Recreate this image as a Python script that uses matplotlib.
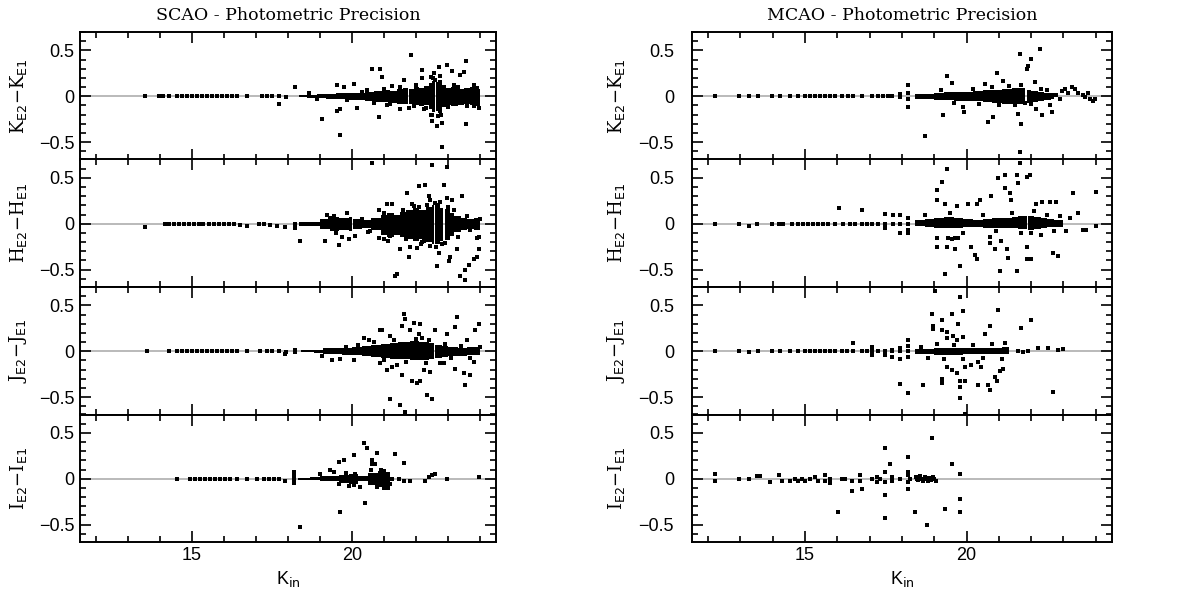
import matplotlib.pyplot as plt
import numpy as np
from matplotlib.ticker import MultipleLocator

# ---- SCAO: individual points (K_in, delta) ----
scao_k_pts = np.array([
    [13.54, 0], [13.96, 0], [14.11, 0], [14.27, 0], [14.53, 0], [14.69, 0], [14.84, 0], [15.0, 0],
    [15.16, 0], [15.31, 0], [15.47, 0], [15.63, 0], [15.78, 0], [15.94, 0], [16.09, 0], [16.25, 0],
    [16.41, 0], [16.72, 0], [17.19, 0], [17.34, 0], [17.5, 0], [17.71, 0], [17.71, -0.08], [17.95, -0.01],
    [18.23, 0.10], [18.65, 0.035], [18.9, -0.035], [19.06, -0.25], [19.53, 0.125], [19.53, -0.16],
    [19.64, -0.42], [19.64, -0.14], [19.74, 0.10], [19.84, -0.04], [20.05, 0.135], [20.16, -0.125],
    [20.47, 0.07], [20.63, 0.30], [20.83, -0.23], [20.89, 0.30], [20.94, 0.21], [21.09, -0.10],
    [21.25, 0.11], [21.3, -0.05], [21.51, -0.14], [21.61, 0.18], [21.77, -0.13], [21.84, 0.45],
    [21.93, -0.11], [22.08, -0.04], [22.19, 0.29], [22.19, 0.20], [22.24, -0.14], [22.34, 0.07],
    [22.5, -0.27], [22.5, -0.2], [22.55, 0.25], [22.6, 0.18], [22.66, -0.32], [22.71, 0.32],
    [22.81, -0.29], [22.81, -0.55], [22.97, 0.34], [23.13, 0.27], [23.18, 0.12], [23.39, 0.23],
    [23.49, 0.26], [23.55, 0.38], [23.55, -0.30], [23.7, 0.07], [23.8, -0.11], [23.8, 0.12], [23.96, -0.13],
    [20.3, 0.05], [20.7, -0.07], [21.0, 0.08], [21.2, -0.09], [21.5, 0.1], [22.0, 0.12], [22.3, -0.13],
    [23.0, -0.12], [23.3, 0.1], [23.6, -0.11], [23.9, 0.09], [22.48, 0.21], [22.52, 0.2], [22.68, -0.22],
    [22.74, 0.22], [22.78, -0.21], [22.46, -0.2],
])
scao_k_core_x = [18.35, 18.6, 18.9, 19.2, 19.5, 19.8, 20.1, 20.4, 20.7, 21.0, 21.2, 21.4, 21.6, 21.74, 21.78,
                 21.95, 22.1, 22.25, 22.4, 22.5, 22.58, 22.62, 22.7, 22.8, 22.95, 23.1, 23.3, 23.5, 23.7, 23.85, 24.0]
scao_k_core_hi = [0.012, 0.015, 0.02, 0.025, 0.03, 0.04, 0.035, 0.05, 0.06, 0.07, 0.06, 0.08, 0.09, 0.0, 0.08,
                  0.1, 0.09, 0.11, 0.14, 0.17, 0.0, 0.15, 0.18, 0.12, 0.09, 0.1, 0.08, 0.09, 0.1, 0.08, 0.08]
scao_k_core_lo = [-0.012, -0.015, -0.02, -0.03, -0.035, -0.04, -0.04, -0.05, -0.06, -0.06, -0.07, -0.08, -0.08, 0.0, -0.09,
                  -0.1, -0.11, -0.1, -0.14, -0.17, 0.0, -0.16, -0.18, -0.12, -0.1, -0.11, -0.1, -0.09, -0.1, -0.11, -0.11]

scao_h_pts = np.array([
    [13.54, -0.04], [14.17, 0], [14.27, 0], [14.43, 0], [14.58, 0], [14.74, 0], [14.9, 0], [15.05, 0],
    [15.21, 0], [15.36, 0], [15.52, 0], [15.68, 0], [15.83, 0], [15.99, 0], [16.15, 0], [16.3, 0],
    [16.51, -0.01], [16.72, -0.03], [17.08, 0], [17.24, 0], [17.45, -0.01], [17.66, -0.03], [17.92, -0.04],
    [18.23, -0.05], [18.23, 0.0],
    [18.39, -0.19], [19.17, -0.19], [19.58, -0.23], [19.9, -0.17], [19.69, -0.14], [19.22, 0.10],
    [19.43, 0.08], [19.84, 0.12], [20.1, -0.13], [20.57, -0.08], [20.83, 0.15], [21.09, 0.22],
    [21.25, 0.21], [21.41, -0.06], [20.83, -0.16], [20.99, -0.17], [21.14, -0.19], [21.41, -0.55],
    [21.35, -0.57], [21.51, -0.28], [21.72, 0.33], [21.88, 0.22], [22.08, 0.41], [22.29, 0.42],
    [22.4, 0.30], [21.82, -0.25], [21.77, -0.36], [22.03, -0.26], [22.24, -0.19], [22.45, 0.26],
    [22.76, 0.24], [22.86, 0.42], [22.97, 0.28], [23.13, 0.26], [22.66, -0.46], [22.71, -0.32],
    [23.02, -0.41], [23.07, -0.36], [23.28, -0.28], [23.39, -0.57], [23.54, -0.5], [23.54, -0.61],
    [23.65, -0.45], [23.8, -0.39], [23.91, -0.36], [23.96, -0.28], [23.91, -0.16], [23.7, -0.07],
    [23.96, -0.14], [20.63, 0.66], [22.5, 0.64], [22.97, 0.62], [23.44, 0.30],
    [19.3, 0.06], [19.5, -0.1], [20.3, 0.05], [20.5, -0.09], [21.0, 0.12], [21.2, -0.13], [21.6, 0.15],
    [21.7, -0.17], [22.1, 0.18], [22.2, -0.2], [22.35, 0.2], [22.7, 0.2], [22.8, -0.22], [23.2, 0.15],
    [23.3, -0.15], [23.6, 0.08], [24.0, 0.05], [21.95, 0.19], [22.15, -0.22], [22.45, -0.24],
    [22.6, 0.23], [22.62, -0.25], [22.9, -0.21], [23.0, 0.18],
])
scao_h_core_x = [18.35, 18.7, 19.0, 19.3, 19.6, 19.9, 20.0, 20.04, 20.3, 20.6, 20.9, 21.1, 21.3, 21.5, 21.7,
                 21.9, 22.1, 22.3, 22.5, 22.56, 22.6, 22.75, 22.85, 22.9, 23.05, 23.2, 23.4, 23.6, 23.8, 24.0]
scao_h_core_hi = [0.015, 0.02, 0.05, 0.07, 0.06, 0.07, 0.0, 0.05, 0.04, 0.06, 0.1, 0.12, 0.1, 0.13, 0.15,
                  0.17, 0.15, 0.18, 0.2, 0.0, 0.2, 0.17, 0.0, 0.16, 0.12, 0.08, 0.06, 0.05, 0.06, 0.06]
scao_h_core_lo = [-0.02, -0.03, -0.06, -0.08, -0.07, -0.08, 0.0, -0.06, -0.05, -0.07, -0.12, -0.14, -0.12, -0.15, -0.17,
                  -0.19, -0.17, -0.2, -0.22, 0.0, -0.22, -0.19, 0.0, -0.18, -0.13, -0.09, -0.07, -0.06, -0.07, -0.07]

scao_j_pts = np.array([
    [13.59, 0], [14.27, 0], [14.53, 0], [14.69, 0], [14.84, 0], [15.0, 0], [15.16, 0], [15.31, 0],
    [15.47, 0], [15.63, 0], [15.78, 0], [15.94, 0], [16.09, 0], [16.25, 0], [16.41, 0], [16.72, 0],
    [17.14, 0], [17.34, 0], [17.5, 0], [17.71, 0], [17.92, -0.03], [17.95, -0.01], [18.23, 0.01], [18.23, -0.01],
    [19.06, -0.05], [20.36, 0.14], [20.52, 0.12], [20.89, 0.23], [20.94, 0.23], [21.2, 0.17],
    [21.51, 0.08], [21.61, 0.41], [21.67, 0.35], [21.56, 0.27], [21.82, 0.23], [21.93, 0.31],
    [22.08, 0.19], [22.14, 0.30], [22.19, 0.14], [22.6, 0.23], [22.97, 0.19], [23.28, 0.37],
    [23.23, 0.26], [23.59, 0.12], [23.85, 0.23], [23.96, 0.30], [20.89, -0.13], [21.09, -0.21],
    [21.25, -0.17], [21.41, -0.15], [21.56, -0.26], [21.88, -0.32], [22.03, -0.35], [22.14, -0.33],
    [22.24, -0.21], [22.34, -0.48], [22.5, -0.52], [22.45, -0.23], [22.76, -0.13], [22.86, -0.13],
    [23.23, -0.19], [23.49, -0.24], [23.54, -0.37], [23.7, -0.26], [23.8, -0.12], [21.2, -0.52],
    [21.51, -0.59], [21.67, -0.66], [20.05, -0.1], [19.64, -0.08], [19.38, -0.1],
    [19.8, 0.05], [20.2, 0.07], [20.7, 0.1], [21.0, -0.1], [21.3, 0.12], [21.7, -0.12], [22.0, 0.13],
    [22.3, -0.13], [22.4, 0.12], [22.9, 0.08], [23.1, -0.07], [23.4, 0.06], [23.7, -0.07], [24.0, 0.05],
])
scao_j_core_x = [18.4, 18.8, 19.1, 19.4, 19.7, 20.0, 20.3, 20.6, 20.9, 21.2, 21.5, 21.8, 22.1, 22.4, 22.55,
                 22.59, 22.8, 23.0, 23.3, 23.6, 24.0]
scao_j_core_hi = [0.01, 0.015, 0.03, 0.035, 0.04, 0.05, 0.06, 0.07, 0.08, 0.09, 0.1, 0.11, 0.1, 0.09, 0.0,
                  0.07, 0.06, 0.05, 0.04, 0.05, 0.05]
scao_j_core_lo = [-0.01, -0.015, -0.025, -0.03, -0.04, -0.04, -0.05, -0.06, -0.07, -0.08, -0.09, -0.1, -0.1, -0.09, 0.0,
                  -0.07, -0.06, -0.05, -0.05, -0.04, -0.04]

scao_i_pts = np.array([
    [14.53, 0], [14.95, 0], [15.1, 0], [15.26, 0], [15.42, 0], [15.57, 0], [15.73, 0], [15.89, 0],
    [16.04, 0], [16.2, 0], [16.41, 0], [16.72, 0], [17.03, 0], [17.24, 0], [17.4, 0], [17.55, 0],
    [17.71, 0], [17.92, -0.02], [18.18, 0.07], [18.18, 0.04], [18.18, 0.01], [18.18, -0.02], [18.18, -0.05],
    [21.46, 0], [21.61, -0.02], [21.82, -0.02], [22.29, -0.02], [22.4, 0.02], [22.5, 0.04], [22.6, 0.05],
    [22.97, 0], [23.96, 0.02],
    [18.39, -0.53], [19.64, -0.36], [19.58, 0.18], [19.74, 0.2], [20.05, 0.26], [20.36, 0.39],
    [20.47, 0.33], [20.42, -0.27], [20.63, 0.2], [20.63, 0.16], [20.78, 0.28], [20.73, 0.16],
    [21.35, 0.27], [21.61, 0.17], [20.05, -0.07], [20.26, -0.09], [20.78, -0.09], [20.99, -0.1],
    [21.14, -0.1], [19.32, 0.09], [19.43, 0.07], [19.01, 0.05],
    [19.8, 0.06], [20.1, 0.05], [20.6, 0.09], [20.9, 0.1], [21.0, 0.08], [21.2, -0.06], [19.6, -0.06], [19.9, -0.08],
])
scao_i_core_x = [18.3, 18.7, 19.0, 19.3, 19.6, 19.9, 20.2, 20.5, 20.8, 21.0, 21.2, 21.32]
scao_i_core_hi = [0.01, 0.015, 0.025, 0.03, 0.045, 0.05, 0.03, 0.06, 0.08, 0.07, 0.02, 0.02]
scao_i_core_lo = [-0.01, -0.015, -0.02, -0.03, -0.05, -0.06, -0.03, -0.07, -0.09, -0.08, -0.02, -0.02]

# ---- MCAO ----
mcao_k_pts = np.array([
    [12.2, 0], [12.94, 0], [13.25, 0], [13.54, 0], [13.97, 0], [14.23, 0], [14.54, 0], [14.79, 0],
    [15.0, 0], [15.15, 0], [15.31, 0], [15.46, 0], [15.62, 0], [15.77, 0], [15.93, 0], [16.13, 0],
    [16.34, 0], [16.49, 0], [16.75, 0], [17.06, 0], [17.27, 0], [17.42, 0], [17.58, 0], [17.68, 0],
    [17.94, 0.02], [17.94, -0.01], [18.2, 0.12], [18.2, 0.03], [18.2, -0.03], [18.2, -0.12],
    [18.71, -0.43], [19.38, 0.22], [19.54, 0.14], [19.28, -0.2], [19.9, -0.12], [19.93, -0.17],
    [20.67, -0.28], [20.82, -0.23], [20.57, 0.13], [20.93, 0.25], [21.13, 0.17], [21.65, 0.46],
    [21.7, -0.3], [21.65, -0.61], [21.86, 0.30], [21.91, 0.33], [22.01, 0.41], [22.11, 0.15],
    [22.27, 0.51], [22.32, -0.21], [22.16, -0.14], [21.6, -0.19], [21.8, -0.07], [22.58, -0.1],
    [22.63, -0.17], [22.78, 0.01], [22.89, -0.03], [22.94, 0.06], [23.04, 0.08], [23.14, 0.04],
    [23.25, 0.1], [23.35, 0.08], [23.45, 0.04], [23.61, 0.01], [23.66, -0.01], [23.76, 0.03],
    [23.81, -0.03], [23.92, -0.05], [23.97, -0.03],
    [19.2, 0.07], [19.6, -0.07], [20.2, 0.08], [20.4, -0.08], [20.8, 0.1], [21.0, -0.1], [21.3, 0.11],
    [21.5, -0.1], [21.7, 0.12], [22.0, -0.09], [22.3, 0.08], [22.5, 0.07],
])
mcao_k_core_x = [18.4, 18.7, 19.0, 19.3, 19.6, 19.9, 20.2, 20.5, 20.8, 21.1, 21.4, 21.6, 21.82, 21.86,
                 22.0, 22.2, 22.4, 22.6, 22.7]
mcao_k_core_hi = [0.02, 0.025, 0.035, 0.045, 0.05, 0.045, 0.06, 0.065, 0.07, 0.08, 0.09, 0.09, 0.0, 0.07,
                  0.06, 0.05, 0.04, 0.03, 0.03]
mcao_k_core_lo = [-0.025, -0.03, -0.04, -0.045, -0.05, -0.05, -0.055, -0.06, -0.07, -0.08, -0.08, -0.09, 0.0, -0.07,
                  -0.06, -0.05, -0.04, -0.03, -0.03]

mcao_h_pts = np.array([
    [12.2, 0], [12.94, 0], [13.25, -0.02], [13.51, 0], [13.97, 0], [14.18, 0], [14.33, 0], [14.59, 0],
    [14.79, 0], [14.95, 0], [15.1, 0], [15.26, 0], [15.41, 0], [15.57, 0], [15.72, 0], [15.93, 0],
    [16.18, 0], [16.39, 0], [16.55, 0], [16.75, 0], [16.91, 0], [17.06, 0], [17.27, 0], [17.47, 0],
    [17.73, 0], [17.94, 0], [18.2, 0],
    [16.05, 0.17], [16.75, 0.15], [17.47, 0.11], [17.73, 0.09], [17.94, 0.1], [17.94, -0.1],
    [18.2, 0.06], [18.2, -0.07], [18.2, -0.1], [17.47, -0.05],
    [19.38, 0.6], [19.23, 0.46], [19.07, 0.37], [19.07, 0.26], [19.33, 0.21], [19.69, 0.19],
    [19.07, -0.16], [19.07, -0.25], [19.43, -0.16], [19.54, -0.17], [19.64, -0.16], [19.74, -0.16],
    [19.38, -0.25], [19.64, -0.28], [19.33, -0.55], [19.79, -0.46], [20.05, 0.22], [20.31, 0.21],
    [20.41, 0.26], [20.15, -0.25], [20.26, -0.34], [20.31, -0.39], [20.72, -0.14], [20.72, -0.21],
    [20.88, -0.28], [20.77, 0.30], [20.98, 0.50], [21.19, 0.39], [21.19, 0.53], [21.34, 0.33],
    [21.39, 0.26], [21.55, 0.53], [21.6, 0.44], [21.55, -0.52], [21.03, -0.52], [21.08, -0.19],
    [21.24, -0.28], [21.29, -0.37], [21.65, 0.66], [21.86, 0.51], [21.96, 0.53], [21.86, -0.39],
    [22.01, -0.39], [21.86, -0.25], [22.01, -0.1], [22.16, 0.22], [22.32, 0.24], [22.58, 0.24],
    [22.78, 0.24], [22.68, -0.32], [22.84, -0.35], [23.09, -0.08], [23.2, 0.06], [23.3, 0.33],
    [23.45, 0.12], [23.61, -0.07], [23.71, -0.07], [24.02, 0.35], [24.02, -0.03],
    [18.7, 0.1], [19.5, 0.12], [19.9, -0.1], [20.5, 0.09], [20.9, -0.08], [21.4, 0.12], [21.7, -0.1],
    [22.1, 0.14], [22.3, -0.12], [22.5, 0.1], [22.7, -0.08], [22.9, 0.08],
])
mcao_h_core_x = [18.4, 18.7, 19.0, 19.3, 19.6, 19.9, 20.2, 20.5, 20.8, 21.1, 21.4, 21.6, 21.86, 21.9,
                 22.1, 22.3, 22.5, 22.7, 23.0]
mcao_h_core_hi = [0.04, 0.05, 0.06, 0.07, 0.06, 0.05, 0.045, 0.05, 0.06, 0.06, 0.07, 0.08, 0.0, 0.08,
                  0.07, 0.06, 0.05, 0.04, 0.04]
mcao_h_core_lo = [-0.03, -0.04, -0.05, -0.05, -0.045, -0.04, -0.04, -0.045, -0.05, -0.05, -0.05, -0.06, 0.0, -0.07,
                  -0.06, -0.05, -0.04, -0.04, -0.04]

mcao_j_pts = np.array([
    [12.2, 0], [12.94, 0], [13.25, -0.01], [13.54, 0], [13.97, 0], [14.23, 0], [14.54, 0], [14.79, 0],
    [15.0, 0], [15.15, 0], [15.31, 0], [15.46, 0], [15.62, 0], [15.77, 0], [15.93, 0], [16.13, 0],
    [16.29, 0], [16.49, 0], [16.75, 0], [16.91, 0], [17.06, 0], [17.27, 0], [17.47, 0], [17.68, 0],
    [17.94, 0], [18.2, 0],
    [16.49, 0.09], [17.06, 0.05], [17.06, -0.04], [17.47, -0.04], [17.68, -0.06], [17.68, 0.01],
    [17.94, -0.08], [17.94, 0.03], [18.2, 0.12], [18.2, -0.06], [18.2, 0.06], [17.94, -0.36], [18.2, -0.46],
    [19.02, 0.66], [19.79, 0.59], [18.92, 0.41], [18.97, 0.28], [19.23, 0.34], [19.54, 0.41],
    [19.9, 0.44], [19.74, 0.30], [18.97, 0.24], [19.23, 0.23], [19.38, 0.21], [19.38, 0.14],
    [19.59, 0.17], [19.69, 0.12], [19.9, 0.16], [20.57, 0.19], [20.98, 0.45], [20.72, 0.28],
    [21.7, 0.25], [22.01, 0.34], [22.22, 0.03], [22.53, 0.03], [22.84, 0.01], [23.0, 0.02],
    [21.6, 0], [21.75, -0.01], [21.91, 0], [22.68, -0.44], [19.23, -0.30], [19.23, -0.35],
    [19.38, -0.17], [19.54, -0.21], [19.69, -0.24], [19.79, -0.32], [19.79, -0.39], [19.79, -0.51],
    [19.95, -0.32], [19.95, -0.17], [19.95, -0.68], [18.66, -0.37], [20.36, -0.37], [20.67, -0.37],
    [20.72, -0.42], [20.88, -0.28], [20.93, -0.32], [21.03, -0.22], [21.13, -0.19], [20.15, -0.15],
    [20.36, -0.12], [20.46, -0.17],
    [18.6, 0.05], [18.8, -0.07], [19.1, 0.08], [19.3, -0.09], [19.6, 0.07], [19.9, -0.08], [20.2, 0.07],
    [20.5, -0.07], [20.8, 0.08], [21.1, -0.08], [21.2, 0.09],
])
mcao_j_core_x = [18.4, 18.7, 19.0, 19.3, 19.6, 19.9, 20.2, 20.5, 20.8, 21.1, 21.3]
mcao_j_core_hi = [0.02, 0.025, 0.035, 0.04, 0.04, 0.035, 0.03, 0.035, 0.04, 0.045, 0.045]
mcao_j_core_lo = [-0.025, -0.03, -0.04, -0.045, -0.04, -0.035, -0.03, -0.03, -0.035, -0.035, -0.035]

mcao_i_pts = np.array([
    [12.2, 0.05], [12.2, -0.02], [12.94, 0], [13.25, 0], [13.51, 0.03], [13.61, 0.03], [13.92, -0.04],
    [14.18, 0.04], [14.28, -0.02], [14.54, -0.02], [14.69, 0], [14.79, -0.02], [14.9, 0], [15.0, -0.02],
    [15.15, 0], [15.31, 0.02], [15.41, -0.02], [15.62, 0.04], [15.62, -0.02], [15.77, 0], [15.77, -0.05],
    [16.03, -0.36], [16.13, 0], [16.24, 0], [16.44, -0.02], [16.44, -0.13], [16.7, 0.04], [16.7, -0.02],
    [16.75, -0.11], [17.06, 0], [17.22, 0.02], [17.22, -0.04], [17.32, 0], [17.47, 0.33], [17.47, 0.07],
    [17.47, -0.04], [17.47, -0.18], [17.47, -0.43], [17.63, 0.16], [17.68, 0.02], [17.68, -0.02],
    [17.94, 0], [18.2, 0.24], [18.2, 0.07], [18.2, 0.04], [18.2, -0.04], [18.2, -0.11], [18.25, 0],
    [18.4, -0.36], [18.76, -0.51], [19.33, -0.33], [19.54, 0.16], [19.79, 0.05], [19.79, -0.22],
    [19.79, -0.36], [18.92, 0.44],
    [18.45, 0.02], [18.5, -0.01], [18.55, 0.03], [18.6, 0], [18.65, -0.02], [18.7, 0.02], [18.75, 0],
    [18.8, -0.03], [18.85, 0.01], [18.9, -0.01], [18.95, 0.02], [19.0, 0], [19.05, -0.02],
])
mcao_i_core_x = [18.4, 19.05]
mcao_i_core_hi = [0.02, 0.02]
mcao_i_core_lo = [-0.025, -0.025]

bands = ["K", "H", "J", "I"]
# title, axes left, axes width, tick label pad, y-label position, panels
columns = [
    ("SCAO - Photometric Precision", 0.0672, 0.3496, 4, -0.123, [
        (scao_k_pts, scao_k_core_x, scao_k_core_lo, scao_k_core_hi),
        (scao_h_pts, scao_h_core_x, scao_h_core_lo, scao_h_core_hi),
        (scao_j_pts, scao_j_core_x, scao_j_core_lo, scao_j_core_hi),
        (scao_i_pts, scao_i_core_x, scao_i_core_lo, scao_i_core_hi)]),
    ("MCAO - Photometric Precision", 0.5815, 0.3529, 13, -0.155, [
        (mcao_k_pts, mcao_k_core_x, mcao_k_core_lo, mcao_k_core_hi),
        (mcao_h_pts, mcao_h_core_x, mcao_h_core_lo, mcao_h_core_hi),
        (mcao_j_pts, mcao_j_core_x, mcao_j_core_lo, mcao_j_core_hi),
        (mcao_i_pts, mcao_i_core_x, mcao_i_core_lo, mcao_i_core_hi)]),
]

fig = plt.figure(figsize=(11.9, 6), dpi=100)
top = 1 - 32 / 600
ph = (510 / 4) / 600

for title, left, width, ypad, ylab_x, panels in columns:
    for k, (band, (pts, cx, clo, chi)) in enumerate(zip(bands, panels)):
        ax = fig.add_axes([left, top - (k + 1) * ph, width, ph])
        ax.axhline(0, color='#b4b4b4', lw=1.3, zorder=1)
        ax.fill_between(cx, clo, chi, step='post', color='black', lw=0, zorder=2)
        ax.plot(pts[:, 0], pts[:, 1], 's', ms=2.8, mew=0, color='black', zorder=3)

        ax.set_xlim(11.5, 24.5)
        ax.set_ylim(-0.69, 0.7)
        ax.xaxis.set_major_locator(MultipleLocator(5))
        ax.xaxis.set_minor_locator(MultipleLocator(1))
        ax.yaxis.set_major_locator(MultipleLocator(0.5))
        ax.yaxis.set_minor_locator(MultipleLocator(0.1))
        ax.tick_params(which='both', direction='in', top=True, right=True, width=1.2)
        ax.tick_params(which='major', length=8)
        ax.tick_params(which='minor', length=4.5)
        ax.tick_params(axis='y', pad=ypad)
        ax.set_yticks([-0.5, 0, 0.5])
        ax.set_yticklabels(["\u22120.5", "0", "0.5"], family='Liberation Sans', fontsize=13)
        for s in ax.spines.values():
            s.set_linewidth(1.4)

        ax.set_ylabel(f"{band}$_{{\\rm E2}}$\u2212{band}$_{{\\rm E1}}$",
                      family='DejaVu Serif', fontsize=13)
        ax.yaxis.set_label_coords(ylab_x, 0.5)

        if k < 3:
            ax.tick_params(labelbottom=False)
        else:
            ax.set_xticks([15, 20])
            ax.set_xticklabels(["15", "20"], family='Liberation Sans', fontsize=13)
            ax.set_xlabel("K$_{\\rm in}$", family='Liberation Sans', fontsize=13, labelpad=4)
        if k == 0:
            ax.set_title(title, family='DejaVu Serif', fontsize=12.5, pad=9)

fig.savefig("out.png", dpi=100)
plt.close(fig)
